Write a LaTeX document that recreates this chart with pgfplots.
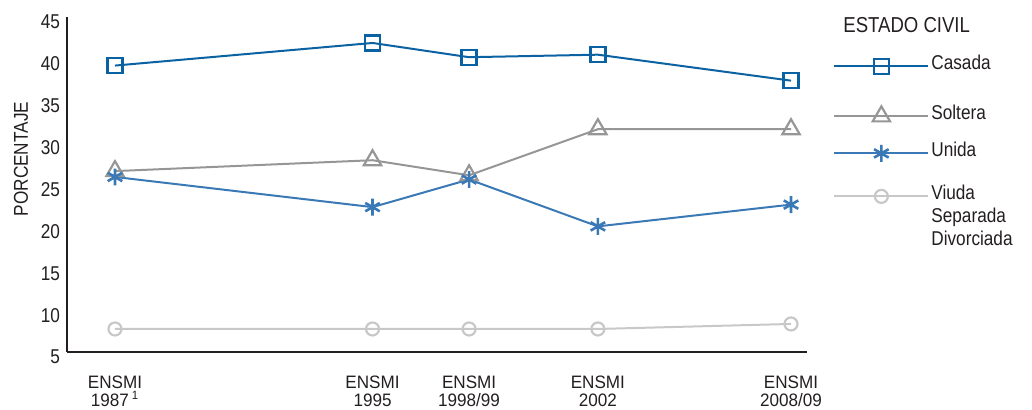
\documentclass[border=0pt]{standalone}
\usepackage{fontspec}
\setmainfont{Liberation Sans}[FakeStretch=0.86]
\newfontfamily\xlab{Liberation Sans}[FakeStretch=0.95]
\usepackage{pgfplots}
\pgfplotsset{compat=1.18}
\definecolor{casada}{HTML}{0A62A2}
\definecolor{unida}{HTML}{3B79B6}
\definecolor{soltera}{HTML}{969696}
\definecolor{viuda}{HTML}{C8C8C8}
\definecolor{axisc}{HTML}{231F20}
\definecolor{textc}{HTML}{231F20}
\begin{document}
\begin{tikzpicture}
\begin{axis}[
  at={(0pt,0pt)}, anchor=south west,
  scale only axis, width=370pt, height=167.5pt,
  xmin=1985.509, xmax=2008.497, ymin=5, ymax=45,
  axis x line*=bottom, axis y line*=left,
  axis line style={line width=1pt, color=axisc, -},
  major tick length=0pt,
  xtick={1987,1995,1998,2002,2008},
  xticklabels={{ENSMI\\1987\,\textsuperscript{1}},{ENSMI\\1995},{ENSMI\\1998/99},{ENSMI\\2002},{ENSMI\\2008/09}},
  xticklabel style={font=\xlab\fontsize{9}{9}\selectfont, align=center, inner sep=0pt, anchor=north, yshift=-12pt, text=textc},
  ytick={5,10,...,45},
  yticklabel style={font=\fontsize{10}{12}\selectfont, yshift=-2.5pt, text=textc},
  /pgf/number format/assume math mode=true,
  ylabel={PORCENTAJE},
  ylabel style={at={(axis description cs:-0.0622,0.576)}, anchor=center, font=\fontsize{10}{12}\selectfont, text=textc},
  clip=false,
  legend style={at={(axis description cs:1.0351,0.8926)}, anchor=north west, draw=none, fill=none, inner sep=0pt, row sep=0pt,
    nodes={inner sep=0pt, anchor=base west, text=textc, font=\fontsize{10}{11.5}\selectfont},
    /tikz/every odd column/.style={column sep=1pt}},
  legend cell align=left,
  legend image code/.code={\draw[mark repeat=2,mark phase=2,#1,yshift=1.5pt] plot coordinates {(0pt,0pt) (23.5pt,0pt) (47pt,0pt)};},
]
\addplot[color=casada, line width=1pt, mark=square, mark size=3.75pt, mark options={solid, line width=1.2pt}]
  coordinates {(1987,39.2) (1995,41.9) (1998,40.2) (2002,40.5) (2008,37.4)};
\addlegendentry[text height=8pt, text depth=4pt]{Casada}
\addplot[color=soltera, line width=1pt, mark=triangle, mark size=5pt, mark options={solid, line width=1.1pt}]
  coordinates {(1987,26.6) (1995,27.9) (1998,26.1) (2002,31.6) (2008,31.6)};
\addlegendentry[text height=21pt, text depth=4pt]{Soltera}
\addplot[color=unida, line width=1pt, mark=asterisk, mark size=4.2pt, mark options={solid, line width=1.3pt}]
  coordinates {(1987,25.9) (1995,22.3) (1998,25.6) (2002,20.0) (2008,22.6)};
\addlegendentry[text height=14.5pt, text depth=4pt]{Unida}
\addplot[color=viuda, line width=1pt, mark=o, mark size=3.25pt, mark options={solid, line width=1.1pt}]
  coordinates {(1987,7.75) (1995,7.75) (1998,7.75) (2002,7.75) (2008,8.35)};
\addlegendentry[text height=17.5pt]{\begin{tabular}[t]{@{}l@{}}Viuda\\Separada\\Divorciada\end{tabular}}
\node[anchor=base west, font=\fontsize{10.8}{13}\selectfont, text=textc, inner sep=0pt] at (axis description cs:1.0486,0.9552) {ESTADO CIVIL};
\end{axis}
\pgfresetboundingbox
\path[use as bounding box] (-33.5pt,-28.5pt) rectangle (482.5pt,176pt);
\end{tikzpicture}
\end{document}
